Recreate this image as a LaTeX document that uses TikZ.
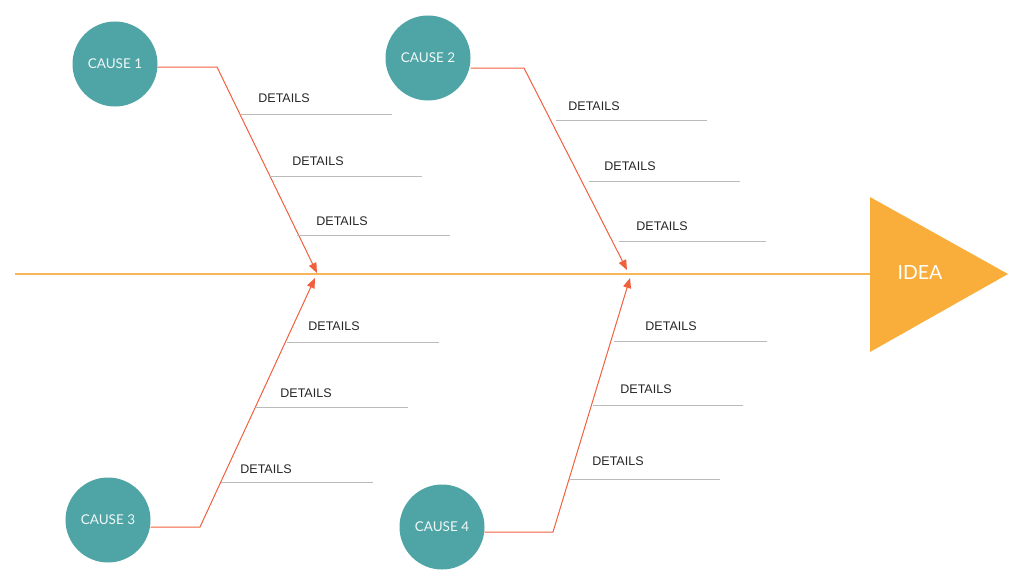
\documentclass[tikz,border=0pt]{standalone}
\usepackage{fontspec}
\setmainfont{Liberation Sans}
\newfontfamily\causefont{Lato}
\usetikzlibrary{arrows.meta,positioning,calc}
\definecolor{teal}{HTML}{4FA4A6}
\definecolor{bone}{HTML}{F0603F}
\definecolor{spineor}{HTML}{F8B659}
\definecolor{heador}{HTML}{F9AE3B}
\definecolor{detgray}{HTML}{BBBBBB}

\begin{document}
\begin{tikzpicture}[x=1pt, y=-1pt]
    \tikzstyle{cause} = [circle, fill=teal, minimum size=85pt, inner sep=0pt, text=white!92!teal, font=\causefont\fontsize{13.5}{15}\selectfont]
    \tikzstyle{detail} = [inner sep=0pt, text=black!85, font=\fontsize{12.5}{14}\selectfont]
    \tikzstyle{detline} = [draw=detgray, line width=1pt]
    \tikzstyle{bonearrow} = [draw=bone, line width=1pt, -{Triangle[length=10pt,width=8pt]}]
    \useasboundingbox (0,0) rectangle (1024,586);

    % Kopf
    \fill[heador] (870,197) -- (1008,274) -- (870,352) -- cycle;
    \node[text=white, font=\causefont\fontsize{19.5}{22}\selectfont] (idea) at (920,273) {IDEA};
    \coordinate (tail) at (15,274);
    \coordinate (head) at (870,274);
    \draw[spineor, line width=1.2pt] (tail) -- (head);

    % Ursachen
    \node[cause] (cause1) at (115,64) {CAUSE 1};
    \node[cause] (cause2) at (428,58) {CAUSE 2};
    \node[cause] (cause3) at (108,520) {CAUSE 3};
    \node[cause] (cause4) at (442,527) {CAUSE 4};

    % Knicke und Spitzen
    \coordinate (bend1) at (217,67);  \coordinate (tip1) at (317,273);
    \coordinate (bend2) at (524,68);  \coordinate (tip2) at (627,270);
    \coordinate (bend3) at (200,527); \coordinate (tip3) at (315,278);
    \coordinate (bend4) at (553,532); \coordinate (tip4) at (630,278);

    \draw[bonearrow] (cause1.east |- bend1) -- (bend1) -- (tip1);
    \draw[bonearrow] (cause2.east |- bend2) -- (bend2) -- (tip2);
    \draw[bonearrow] (cause3.east |- bend3) -- (bend3) -- (tip3);
    \draw[bonearrow] (cause4.east |- bend4) -- (bend4) -- (tip4);

    % Details
    \node[detail] (det11) at (284,98) {DETAILS};
    \draw[detline] (241,114) -- (392,114);
    \node[detail] (det12) at (318,161) {DETAILS};
    \draw[detline] (270,176) -- (422,176);
    \node[detail] (det13) at (342,221) {DETAILS};
    \draw[detline] (297,235) -- (450,235);

    \node[detail] (det21) at (594,106) {DETAILS};
    \draw[detline] (556,120) -- (707,120);
    \node[detail] (det22) at (630,166) {DETAILS};
    \draw[detline] (589,181) -- (740,181);
    \node[detail] (det23) at (662,226) {DETAILS};
    \draw[detline] (619,241) -- (766,241);

    \node[detail] (det31) at (334,326) {DETAILS};
    \draw[detline] (287,342) -- (439,342);
    \node[detail] (det32) at (306,393) {DETAILS};
    \draw[detline] (256,407) -- (408,407);
    \node[detail] (det33) at (266,469) {DETAILS};
    \draw[detline] (221,482) -- (373,482);

    \node[detail] (det41) at (671,326) {DETAILS};
    \draw[detline] (614,341) -- (767,341);
    \node[detail] (det42) at (646,389) {DETAILS};
    \draw[detline] (593,405) -- (743,405);
    \node[detail] (det43) at (618,461) {DETAILS};
    \draw[detline] (569,479) -- (720,479);
\end{tikzpicture}
\end{document}
